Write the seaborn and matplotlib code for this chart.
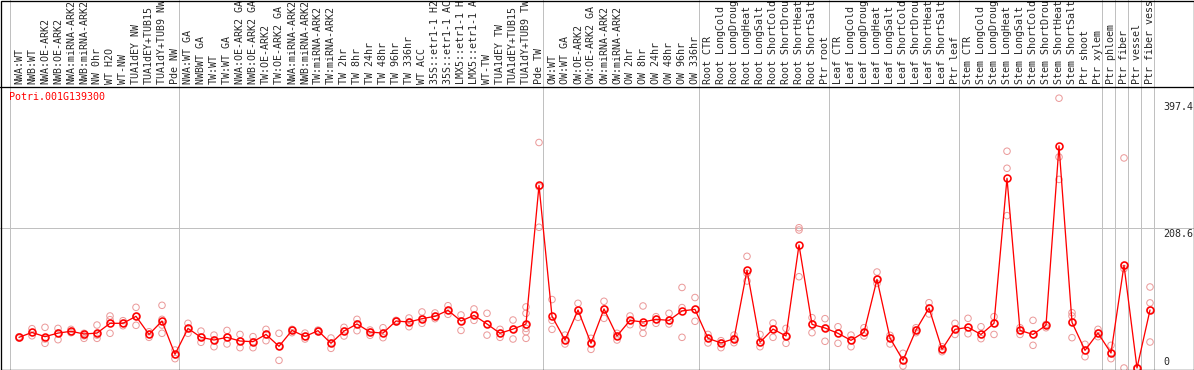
import numpy as np
import pandas as pd
import matplotlib
matplotlib.use("Agg")
import matplotlib.pyplot as plt
import seaborn as sns
from matplotlib.lines import Line2D
from matplotlib.patches import Rectangle

# sample labels, as far as they show in the picture (tops are cut off)
labels_nw = ["NWA:WT", "NWB:WT", "NWA:OE-ARK2", "NWB:OE-ARK2", "NWA:miRNA-ARK2",
             "NWB:miRNA-ARK2", "NW 0hr", "WT H2O", "WT-NW", "TUA1dEY NW",
             "TUA1dEY+TUB15", "TUA1dY+TUB9 NW", "Pde NW"]
labels_tw = ["NWA:WT GA", "NWBWT GA", "TW:WT", "TW:WT GA", "NWA:OE-ARK2 GA",
             "NWB:OE-ARK2 GA", "TW:OE-ARK2", "TW:OE-ARK2 GA", "NWA:miRNA-ARK2",
             "NWB:miRNA-ARK2", "TW:miRNA-ARK2", "TW:miRNA-ARK2", "TW 2hr", "TW 8hr",
             "TW 24hr", "TW 48hr", "TW 96hr", "TW 336hr", "WT ACC", "35S::etr1-1 H2",
             "35S::etr1-1 AC", "LMX5::etr1-1 H", "LMX5::etr1-1 A", "WT-TW",
             "TUA1dEY TW", "TUA1dEY+TUB15", "TUA1dY+TUB9 TW", "Pde TW"]
labels_ow = ["OW:WT", "OW:WT GA", "OW:OE-ARK2", "OW:OE-ARK2 GA", "OW:miRNA-ARK2",
             "OW:miRNA-ARK2", "OW 2hr", "OW 8hr", "OW 24hr", "OW 48hr", "OW 96hr",
             "OW 336hr"]
stress = ["CTR", "LongCold", "LongDroug", "LongHeat", "LongSalt", "ShortCold",
          "ShortDrou", "ShortHeat", "ShortSalt"]
labels_root = ["Root " + s for s in stress] + ["Ptr root"]
labels_leaf = ["Leaf " + s for s in stress] + ["Ptr leaf"]
labels_stem = ["Stem " + s for s in stress] + ["Ptr shoot", "Ptr xylem"]
labels_wood = ["Ptr phloem", "Ptr fiber", "Ptr vessel", "Ptr fiber vess"]

groups = [labels_nw, labels_tw, labels_ow, labels_root, labels_leaf, labels_stem,
          [labels_wood[0]], [labels_wood[1]], [labels_wood[2]], [labels_wood[3]]]
labels = [l for g in groups for l in g]

# mean expression per sample
means = [45.7, 53, 46.7, 52, 54.7, 50.7, 52, 66.6, 66.6, 77, 50, 70, 20.4,
         59, 45.7, 41.7, 45.7, 40.2, 39.2, 50, 32.3, 56, 47, 55.6, 36.8, 55, 65.6,
         53.6, 52, 70, 68.5, 73.5, 77, 86, 70, 78.5, 65.6, 51.7, 58, 65.6, 272,
         77, 41.7, 86.4, 36.8, 88, 47.7, 71, 68.5, 72.5, 71, 85, 87.4,
         44.2, 37.3, 43.7, 145.6, 38.3, 58, 47.7, 183.3, 65, 59.6,
         51.7, 41.2, 53.2, 132, 44.7, 11.4, 56.6, 89.4, 27.8, 57.6,
         60.6, 50, 66.6, 282.7, 56, 50, 63.6, 331, 68, 26.3, 52,
         22.3, 153, 0, 86.4]

# replicate values per sample
replicates = [
    [44.5, 46, 46.5], [58.6, 53, 48], [60.6, 43.2, 36.8], [59, 52, 42.2],
    [57.6, 54.7, 52.6], [51.7, 48, 44.2], [64, 49, 44.2], [77.5, 72, 51.7],
    [70.5, 66.6, 63], [90.4, 76.5, 63.6], [54, 50, 45.7], [93.4, 72.5, 64, 51.7],
    [26.8, 19.8, 13.9],
    [66.6, 59, 51.7], [55, 46.2, 38.3], [49, 41.7, 31.7], [56, 45.7, 35.8],
    [50, 40.2, 30.3], [46.7, 39.2, 30.3], [57.6, 50, 40.7], [51.7, 32.3, 11.4],
    [57.6, 56, 52.6], [52, 47, 43.2], [56.5, 55.5, 54], [44.7, 36.8, 29.3],
    [60.6, 55, 47.7], [72.5, 65.6, 55.6], [56.6, 53.6, 48.7], [60, 52, 45.2],
    [71, 70, 69], [74.5, 68.5, 61.5], [83.5, 73.5, 66.6], [82, 77, 73.5],
    [92.8, 86, 80], [79, 70, 56], [88, 78, 71], [81.5, 65.6, 49],
    [57.6, 51.7, 45.7], [71.5, 58, 43.2], [91, 81.5, 64, 59, 54, 44.2],
    [336, 270, 209.7],
    [102, 71, 57.6], [49, 41.7, 35.8], [96.4, 86.4, 75.5], [44.2, 36.8, 27.8],
    [99.4, 88, 74], [51.7, 47.7, 41.7], [77.5, 71, 64.5], [92.4, 61.5, 51.7],
    [76.5, 72.5, 66.6], [81.5, 71, 65.6], [120, 90, 45.7], [105, 87.4, 69.6],
    [50, 44.2, 37.3], [40.7, 37.3, 30.3], [49, 43.7, 37.7], [166.4, 141, 129.6],
    [50, 38.3, 31.7], [67, 58, 45.7], [59, 47.7, 36.8], [209, 205.6, 136],
    [75, 65, 52.6], [73.5, 59.6, 39.8],
    [61.5, 51.7, 36.8], [49, 41.2, 31.7], [60, 53.2, 47.7], [143, 132, 126],
    [48.7, 44.7, 35.8], [21.9, 11.4, 3], [60, 56.6, 52.6], [97.3, 89.4, 80.5],
    [31.7, 27.8, 24.3], [66.6, 57.6, 50],
    [74, 60.6, 51], [61.5, 50, 43.7], [76.5, 66.6, 50], [323, 297.6, 227],
    [60, 56, 50], [71, 50, 33.8], [65, 63.6, 60], [402, 314.4, 281],
    [82.4, 77.5, 68, 45.2], [35.3, 26.3, 16.8], [57.6, 52, 46.7],
    [33.8, 22.3, 13.9], [313, 153, 148, 0], [0, 0, 0], [120.7, 97, 86.4, 38.7],
]

ytick_vals = [397.4, 208.6, 0]
gene = "Potri.001G139300"

# --- layout (pixels of a 1194x370 image) ---
W, H = 1194, 370
top_px = 86          # line between label strip and plot
left_px = 10         # first group separator
cell = 13            # pixels per sample
zero_px, grid_px = 368, 228
ppu = (zero_px - grid_px) / 208.6

pos = np.arange(len(labels)) + 9 / 13
mean_df = pd.DataFrame({"x": pos, "value": means, "sample": labels})
rep_df = pd.DataFrame([(pos[i], v) for i, r in enumerate(replicates) for v in r],
                      columns=["x", "value"])

sns.set_style("white")
plt.rcParams["font.family"] = ["DejaVu Sans Mono"]
fs = 7.2
px = 0.72  # one pixel in points

fig = plt.figure(figsize=(W / 100, H / 100), dpi=100)
ax = fig.add_axes([0, 0, 1, (H - top_px) / H])

sns.scatterplot(data=rep_df, x="x", y="value", ax=ax, marker="o", s=22,
                color="#eb9a9a", linewidth=1.0 * px, zorder=2, legend=False)
ax.collections[-1].set_facecolor("none")
ax.collections[-1].set_edgecolor("#eb9a9a")

sns.lineplot(data=mean_df, x="x", y="value", ax=ax, color="red", lw=1.3 * px,
             marker="o", markersize=5, markerfacecolor="none",
             markeredgecolor="red", markeredgewidth=1.6 * px, sort=False,
             zorder=3, legend=False)

ax.set_xlim(-left_px / cell, (W - left_px) / cell)
ax.set_ylim((zero_px - H) / ppu, (zero_px - top_px) / ppu)
for sp in ax.spines.values():
    sp.set_visible(False)
ax.set_xticks([])
ax.set_yticks([])
ax.set_xlabel("")
ax.set_ylabel("")

# group separators run up through the label strip
bounds = np.cumsum([0] + [len(g) for g in groups])
for b in bounds:
    ax.axvline(b, ymin=0, ymax=H / (H - top_px), color="#c0c0c0", lw=px,
               clip_on=False, zorder=1)
ax.axhline(208.6, color="#c0c0c0", lw=px, zorder=1)

for x, lab in zip(pos, labels):
    ax.annotate(lab, xy=(x, 1), xycoords=("data", "axes fraction"),
                xytext=(0, 2), textcoords="offset pixels", rotation=90,
                ha="center", va="bottom", fontsize=fs, annotation_clip=False)

for v in ytick_vals:
    va = "bottom" if v == 0 else "top"
    ax.annotate(f"{v:g}", xy=(1163 / W, v), xycoords=("axes fraction", "data"),
                xytext=(0, -1 if v else 1), textcoords="offset pixels",
                ha="left", va=va, fontsize=fs)

fig.text(9 / W, 1 - 97 / H, gene, color="red", fontsize=fs, ha="left", va="center")

# frame and divider line
fig.add_artist(Line2D([0, 1], [1 - (top_px + 0.5) / H] * 2, transform=fig.transFigure,
                      color="black", lw=1.3 * px))
fig.add_artist(Rectangle((0.5 / W, 0.5 / H), (W - 1) / W, (H - 1) / H,
                         transform=fig.transFigure, fill=False, ec="black",
                         lw=1.3 * px))

fig.savefig("out.png", dpi=100)
